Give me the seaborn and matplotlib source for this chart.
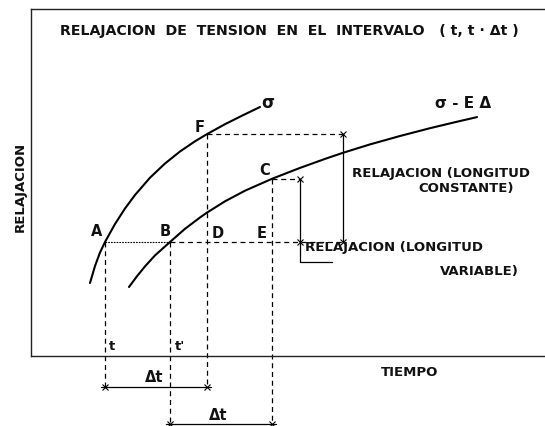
import numpy as np
import pandas as pd
import seaborn as sns
import matplotlib.pyplot as plt

# curva sigma (tiempo, tension)
sig_t = [59, 64, 69, 74, 84, 94, 104, 119, 134, 149, 164, 176, 194, 212, 229]
sig_y = [73, 90, 103.5, 114, 132, 147.5, 161, 178.3, 192.5, 204.5, 214.7, 221.9, 231.8, 240.8, 249]

# curva sigma - E delta
sed_t = [98, 106, 114, 124, 139, 154, 169, 176, 194, 214, 241, 269, 294, 312, 339, 369, 399, 424, 446]
sed_y = [69, 79.8, 89.6, 100.6, 114, 127.2, 138.5, 143.4, 154.7, 165.3, 177.2, 188.1, 197.1, 203.2, 211.6, 220, 227.8, 233.8, 238.9]

# puntos notables
t_A, t_B, t_D, t_E = 74, 139, 176, 241
y_AB, y_F, y_C = 114, 222, 177
x_const, x_var = 312, 269
y_dt1, y_dt2 = -31, -68

point_labels = ["A", "B", "D", "E", "F", "C"]
point_pos = [(66, 124), (134, 124), (187, 123), (231, 123), (169, 228), (234, 186)]

sns.set_style("white")
plt.rcParams["font.family"] = ["DejaVu Sans"]

fig = plt.figure(figsize=(5.45, 4.26), dpi=100)
ax = fig.add_axes([31 / 545, 70 / 426, 514 / 545, 347 / 426])
ax.set_xlim(0, 514)
ax.set_ylim(0, 347)
ax.set_xticks([])
ax.set_yticks([])
for s in ["left", "top", "bottom"]:
    ax.spines[s].set_color("#222222")
    ax.spines[s].set_linewidth(1.0)
ax.spines["right"].set_visible(False)

df_sig = pd.DataFrame({"t": sig_t, "y": sig_y})
df_sed = pd.DataFrame({"t": sed_t, "y": sed_y})
sns.lineplot(data=df_sig, x="t", y="y", ax=ax, color="black", lw=1.5)
sns.lineplot(data=df_sed, x="t", y="y", ax=ax, color="black", lw=1.5)

dash = dict(color="black", lw=0.9, ls=(0, (4, 3)), clip_on=False)
thin = dict(color="black", lw=0.9, clip_on=False)
mk = dict(marker="x", ms=4, mew=0.8, color="black", ls="none", clip_on=False)

# horizontal A-B y B-x_const
ax.plot([t_A, t_B], [y_AB, y_AB], color="black", lw=0.8, ls=(0, (1.5, 1)))
ax.plot([t_B, x_const], [y_AB, y_AB], **dash)
ax.plot([t_D, x_const], [y_F, y_F], **dash)
ax.plot([t_E, x_var], [y_C, y_C], **dash)

# verticales discontinuas
ax.plot([t_A, t_A], [y_AB, y_dt1], **dash)
ax.plot([t_B, t_B], [y_AB, y_dt2], **dash)
ax.plot([t_D, t_D], [y_F, y_dt1], **dash)
ax.plot([t_E, t_E], [y_C, y_dt2], **dash)

# cotas de relajacion
ax.plot([x_const, x_const], [y_AB, y_F], **thin)
ax.plot([x_var, x_var], [y_AB, y_C], **thin)
ax.plot([x_const, x_const, x_var, x_var], [y_AB, y_F, y_AB, y_C], **mk)
ax.plot([x_var, x_var, x_var + 32], [y_AB, y_AB - 20, y_AB - 20], **thin)

# cotas de Delta t
ax.plot([t_A - 4, t_D + 4], [y_dt1, y_dt1], **thin)
ax.plot([t_B - 4, t_E + 4], [y_dt2, y_dt2], **thin)
ax.plot([t_A, t_D, t_B, t_E], [y_dt1, y_dt1, y_dt2, y_dt2], **mk)

txt = dict(color="#111111", fontweight="bold", clip_on=False)
for lab, (x, y) in zip(point_labels, point_pos):
    ax.text(x, y, lab, fontsize=10.5, ha="center", va="center", **txt)

ax.text(237, 253, "σ", fontsize=12, ha="center", va="center", **txt)
ax.text(432, 253, "σ - E Δ", fontsize=11, ha="center", va="center", **txt)
ax.text(321, 183, "RELAJACION (LONGITUD", fontsize=9.5, ha="left", va="center", **txt)
ax.text(387, 168, "CONSTANTE)", fontsize=9.5, ha="left", va="center", **txt)
ax.text(274, 109, "RELAJACION (LONGITUD", fontsize=9.5, ha="left", va="center", **txt)
ax.text(409, 84, "VARIABLE)", fontsize=9.5, ha="left", va="center", **txt)
ax.text(81, 9, "t", fontsize=9.5, ha="center", va="center", **txt)
ax.text(149, 9, "t'", fontsize=9.5, ha="center", va="center", **txt)
ax.text(123, -22, "Δt", fontsize=10.5, ha="center", va="center", **txt)
ax.text(187, -59, "Δt", fontsize=10.5, ha="center", va="center", **txt)
ax.text(379, -17, "TIEMPO", fontsize=9.5, ha="center", va="center", **txt)
ax.text(-11, 169, "RELAJACION", fontsize=9.5, rotation=90, ha="center", va="center", **txt)
ax.text(258, 325, "RELAJACION  DE  TENSION  EN  EL  INTERVALO   ( t, t · Δt )",
        fontsize=10.2, ha="center", va="center", **txt)

fig.savefig("out.png", dpi=100)
